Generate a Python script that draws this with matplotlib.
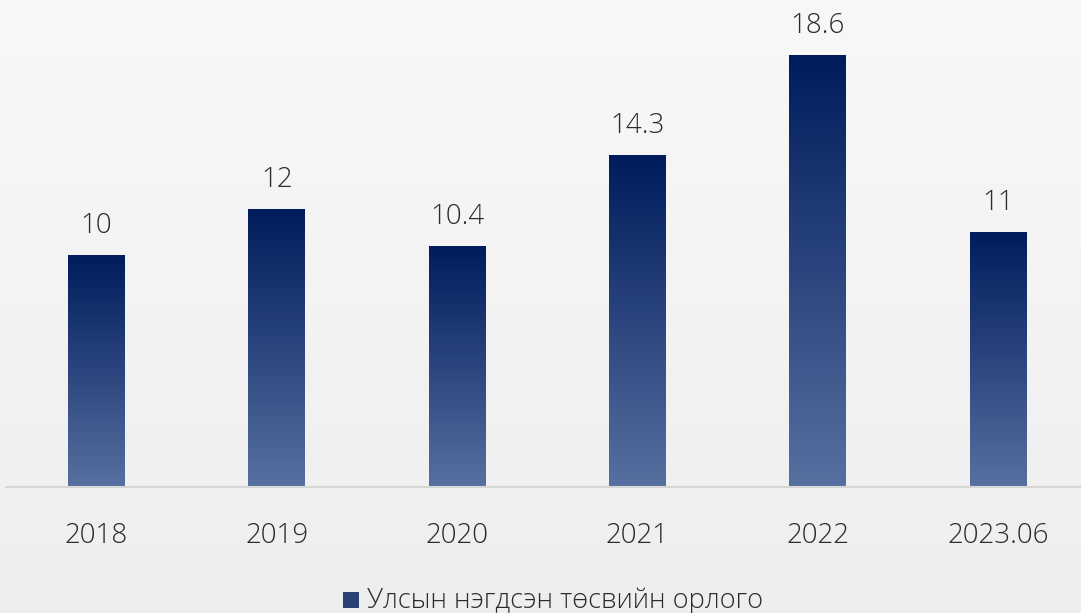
import matplotlib.pyplot as plt
import numpy as np
from matplotlib.colors import LinearSegmentedColormap
from matplotlib.patches import Rectangle

years = ["2018", "2019", "2020", "2021", "2022", "2023.06"]
revenue = [10, 12, 10.4, 14.3, 18.6, 11]
labels = ["10", "12", "10.4", "14.3", "18.6", "11"]
legend_label = "Улсын нэгдсэн төсвийн орлого"

plt.rcParams['font.family'] = ['Open Sans', 'DejaVu Sans']
txt_color = '#2b2b2b'

fig = plt.figure(figsize=(10.81, 6.13), dpi=100)
# light vertical background gradient
bg = fig.add_axes([0, 0, 1, 1], zorder=-10)
bg.imshow(np.linspace(0, 1, 256).reshape(-1, 1),
          cmap=LinearSegmentedColormap.from_list("bg", ["#f8f8f8", "#eeeeee"]),
          aspect='auto', extent=[0, 1, 0, 1], origin='upper')
bg.axis('off')

ax = fig.add_axes([6.3 / 1081, (613 - 487) / 613, 1074.7 / 1081, 487 / 613])
ax.patch.set_alpha(0)

cmap = LinearSegmentedColormap.from_list("bar", ["#5670a0", "#001c5c"])
width = 0.316
x = np.arange(len(years))
bars = ax.bar(x, revenue, width, color="none", edgecolor="none")
grad = np.linspace(0, 1, 256).reshape(-1, 1)
for rect, xi, v, lab in zip(bars, x, revenue, labels):
    im = ax.imshow(grad, cmap=cmap, aspect='auto', origin='lower',
                   extent=[xi - width / 2, xi + width / 2, 0, v], zorder=2)
    im.set_clip_path(rect)
    ax.text(xi, v + 0.65, lab, ha='center', va='bottom', fontsize=20,
            color=txt_color, fontweight='light')
ax.set_xlim(-0.5, 5.46)
ax.set_ylim(0, 487 / 23.2)

for s in ['top', 'right', 'left']:
    ax.spines[s].set_visible(False)
ax.spines['bottom'].set_color('#d6d6d6')
ax.spines['bottom'].set_linewidth(1.5)
ax.set_yticks([])
ax.set_xticks(x, years)
ax.tick_params(axis='x', length=0, pad=25, labelsize=20, labelcolor=txt_color)
for t in ax.get_xticklabels():
    t.set_fontweight('light')

fig.patches.append(Rectangle((343 / 1081, (613 - 608) / 613), 16 / 1081, 16 / 613,
                             transform=fig.transFigure, facecolor='#2a4278',
                             edgecolor='none'))
fig.text(367 / 1081, (613 - 601) / 613, legend_label, fontsize=19.6,
         color=txt_color, va='center', ha='left', fontweight='light')

fig.savefig("out.png", dpi=100)
